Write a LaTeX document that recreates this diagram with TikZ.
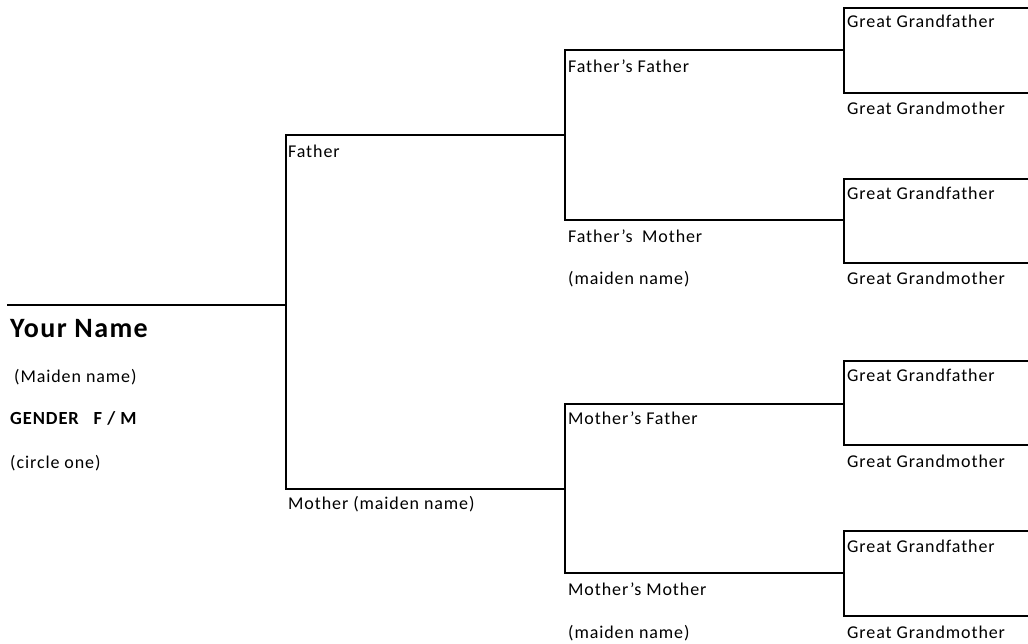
\documentclass[tikz,border=0pt]{standalone}
\usepackage{fontspec}
\setmainfont[LetterSpace=5]{Carlito}
\begin{document}
\begin{tikzpicture}[x=1pt,y=-1pt,
  line/.style={line width=2pt,line cap=rect},
  lbl/.style={anchor=base west,inner sep=0pt,font=\fontsize{18}{20}\selectfont},
  blbl/.style={lbl,font=\fontsize{18.5}{20}\selectfont\bfseries},
  big/.style={lbl,font=\fontsize{28}{30}\selectfont\bfseries}]
\useasboundingbox (0,0) rectangle (1028,643);
% coordinates
\coordinate (you) at (8,305);
\coordinate (b1) at (286,305);
\coordinate (f) at (286,135); \coordinate (fe) at (565,135);
\coordinate (m) at (286,489); \coordinate (me) at (565,489);
\coordinate (ff) at (565,50); \coordinate (ffe) at (844,50);
\coordinate (fm) at (565,220); \coordinate (fme) at (844,220);
\coordinate (mf) at (565,404); \coordinate (mfe) at (844,404);
\coordinate (mm) at (565,573); \coordinate (mme) at (844,573);
\coordinate (g1) at (844,8);   \coordinate (g1e) at (1028,8);
\coordinate (g2) at (844,93);  \coordinate (g2e) at (1028,93);
\coordinate (g3) at (844,179); \coordinate (g3e) at (1028,179);
\coordinate (g4) at (844,263); \coordinate (g4e) at (1028,263);
\coordinate (g5) at (844,361); \coordinate (g5e) at (1028,361);
\coordinate (g6) at (844,445); \coordinate (g6e) at (1028,445);
\coordinate (g7) at (844,531); \coordinate (g7e) at (1028,531);
\coordinate (g8) at (844,616); \coordinate (g8e) at (1028,616);
% lines
\draw[line] (you) -- (b1);
\draw[line] (fe) -- (f) -- (m) -- (me);
\draw[line] (ffe) -- (ff) -- (fm) -- (fme);
\draw[line] (mfe) -- (mf) -- (mm) -- (mme);
\draw[line] (g1e) -- (g1) -- (g2) -- (g2e);
\draw[line] (g3e) -- (g3) -- (g4) -- (g4e);
\draw[line] (g5e) -- (g5) -- (g6) -- (g6e);
\draw[line] (g7e) -- (g7) -- (g8) -- (g8e);
% texts
\node[big] (tyou) at (10,337) {Your Name};
\node[lbl] (tmaid) at (14,382) {(Maiden name)};
\node[blbl] (tgen) at (10,424) {GENDER\hspace{0.8em}F / M};
\node[lbl] (tcirc) at (10,468) {(circle one)};
\node[lbl] (tf) at (288,157) {Father};
\node[lbl] (tm) at (288,509) {Mother (maiden name)};
\node[lbl] (tff) at (568,72) {Father’s Father};
\node[lbl] (tfm) at (568,242) {Father’s\hspace{0.25em} Mother};
\node[lbl] (tfmm) at (568,284) {(maiden name)};
\node[lbl] (tmf) at (568,424) {Mother’s Father};
\node[lbl] (tmm) at (568,595) {Mother’s Mother};
\node[lbl] (tmmm) at (568,638) {(maiden name)};
\node[lbl] (tg1) at (847,27) {Great Grandfather};
\node[lbl] (tg2) at (847,114) {Great Grandmother};
\node[lbl] (tg3) at (847,199) {Great Grandfather};
\node[lbl] (tg4) at (847,284) {Great Grandmother};
\node[lbl] (tg5) at (847,381) {Great Grandfather};
\node[lbl] (tg6) at (847,467) {Great Grandmother};
\node[lbl] (tg7) at (847,552) {Great Grandfather};
\node[lbl] (tg8) at (847,638) {Great Grandmother};
\end{tikzpicture}
\end{document}
